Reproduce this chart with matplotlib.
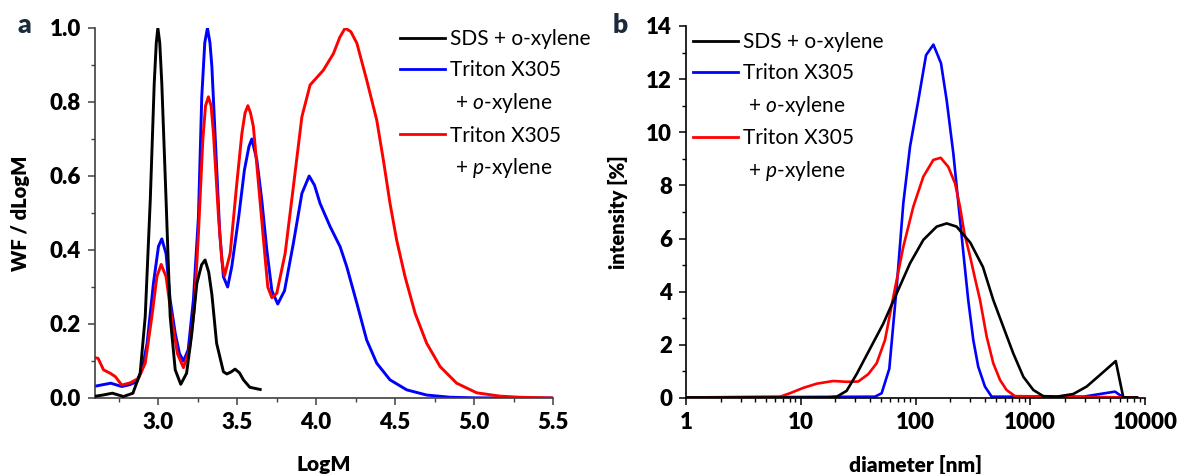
import numpy as np
import matplotlib
matplotlib.use("Agg")
import matplotlib.pyplot as plt
from matplotlib.lines import Line2D
from matplotlib.ticker import MultipleLocator, LogLocator, NullFormatter

plt.rcParams['font.family'] = ['Lato', 'DejaVu Sans']
plt.rcParams['mathtext.fontset'] = 'custom'
plt.rcParams['mathtext.rm'] = 'Lato'
plt.rcParams['mathtext.it'] = 'Lato:italic'

# ---- panel a: GPC, WF/dLogM vs LogM ----
logm_sds = [2.59, 2.65, 2.71, 2.78, 2.84, 2.886, 2.918, 2.95, 2.975, 2.988, 2.998, 3.01, 3.023,
            3.05, 3.076, 3.108, 3.143, 3.18, 3.213, 3.245, 3.275, 3.297, 3.32, 3.34, 3.37, 3.413,
            3.435, 3.46, 3.487, 3.515, 3.54, 3.58, 3.646]
wf_sds = [0.004, 0.008, 0.013, 0.004, 0.013, 0.067, 0.22, 0.535, 0.85, 0.96, 1.0, 0.96, 0.85,
          0.535, 0.22, 0.076, 0.037, 0.067, 0.175, 0.31, 0.36, 0.373, 0.34, 0.28, 0.148, 0.071,
          0.065, 0.07, 0.078, 0.068, 0.049, 0.029, 0.023]

logm_tx_o = [2.59, 2.65, 2.70, 2.77, 2.82, 2.865, 2.90, 2.93, 2.97, 3.002, 3.023, 3.05, 3.076,
             3.108, 3.135, 3.16, 3.19, 3.223, 3.255, 3.276, 3.295, 3.312, 3.328, 3.34, 3.36,
             3.39, 3.413, 3.44, 3.466, 3.51, 3.546, 3.575, 3.593, 3.625, 3.656, 3.688, 3.72,
             3.757, 3.80, 3.856, 3.91, 3.956, 3.99, 4.025, 4.089, 4.152, 4.194, 4.258, 4.32,
             4.384, 4.468, 4.574, 4.70, 4.85, 5.0, 5.2, 5.5]
wf_tx_o = [0.031, 0.036, 0.04, 0.031, 0.036, 0.044, 0.08, 0.148, 0.31, 0.41, 0.43, 0.39, 0.265,
           0.175, 0.12, 0.10, 0.13, 0.265, 0.49, 0.814, 0.96, 1.0, 0.96, 0.896, 0.715,
           0.445, 0.328, 0.30, 0.355, 0.49, 0.616, 0.68, 0.70, 0.643, 0.535, 0.40, 0.29,
           0.254, 0.29, 0.418, 0.553, 0.60, 0.575, 0.526, 0.463, 0.409, 0.355, 0.256, 0.157,
           0.094, 0.049, 0.022, 0.008, 0.002, 0.0005, 0.0, 0.0]

logm_tx_p = [2.59, 2.62, 2.654, 2.696, 2.728, 2.77, 2.823, 2.875, 2.918, 2.96, 2.992, 3.019,
             3.05, 3.087, 3.122, 3.16, 3.198, 3.228, 3.255, 3.283, 3.30, 3.318, 3.335, 3.35,
             3.382, 3.403, 3.42, 3.456, 3.498, 3.53, 3.55, 3.568, 3.585, 3.603, 3.635, 3.667,
             3.694, 3.72, 3.751, 3.804, 3.856, 3.91, 3.962, 4.046, 4.11, 4.15, 4.184, 4.22,
             4.258, 4.32, 4.384, 4.426, 4.468, 4.51, 4.563, 4.627, 4.70, 4.785, 4.89, 5.017,
             5.165, 5.29, 5.5]
wf_tx_p = [0.11, 0.107, 0.076, 0.067, 0.058, 0.035, 0.041, 0.053, 0.094, 0.22, 0.328, 0.361,
           0.328, 0.21, 0.12, 0.082, 0.13, 0.238, 0.445, 0.70, 0.79, 0.814, 0.79, 0.715,
           0.49, 0.373, 0.33, 0.391, 0.58, 0.715, 0.77, 0.79, 0.77, 0.733, 0.58, 0.427,
           0.30, 0.271, 0.283, 0.391, 0.571, 0.76, 0.846, 0.886, 0.931, 0.975, 1.0, 0.99,
           0.959, 0.86, 0.751, 0.643, 0.526, 0.427, 0.328, 0.229, 0.148, 0.085, 0.04, 0.014,
           0.005, 0.002, 0.0]

# ---- panel b: DLS, intensity vs diameter ----
d_sds = [1, 17, 20.6, 25.1, 30.7, 40.1, 52.4, 68.6, 89.6, 117, 153, 187, 228, 300, 387, 476,
         582, 711, 870, 1064, 1300, 1700, 2370, 3100, 4060, 5560, 6470, 8500]
int_sds = [0.02, 0.02, 0.05, 0.27, 0.9, 1.85, 2.8, 3.94, 5.07, 5.95, 6.45, 6.57, 6.45, 5.85,
           4.93, 3.69, 2.68, 1.68, 0.8, 0.3, 0.07, 0.05, 0.15, 0.43, 0.87, 1.39, 0.02, 0.02]

d_tx_o = [1, 44.4, 50.7, 59.1, 68.6, 78.3, 89.6, 105.8, 123.5, 143.2, 166.8, 187, 213.7, 244.5,
          265, 288, 319, 352, 403, 461, 2900, 5480, 6470, 8500]
int_tx_o = [0.02, 0.05, 0.18, 1.1, 4.19, 7.33, 9.46, 11.2, 12.9, 13.3, 12.6, 11.2, 9.2, 6.7,
            5.2, 3.69, 2.18, 1.18, 0.43, 0.05, 0.05, 0.24, 0.02, 0.02]

d_tx_p = [1, 6.6, 8.06, 10.5, 13.8, 19.2, 25.1, 31.7, 38.8, 45.9, 54.2, 64.1, 78.3, 95.7, 117,
          143, 165.7, 193, 221, 244, 267, 300, 330, 365, 417, 476, 545, 622, 736, 8500]
int_tx_p = [0.02, 0.05, 0.18, 0.38, 0.54, 0.64, 0.61, 0.62, 0.9, 1.31, 2.18, 3.81, 5.69, 7.2,
            8.33, 8.96, 9.04, 8.7, 8.08, 7.2, 6.19, 5.3, 4.5, 3.69, 2.31, 1.31, 0.68, 0.3,
            0.07, 0.02]

labels = ["SDS + o-xylene", "Triton X305", " + $\\mathit{o}$-xylene", "Triton X305",
          " + $\\mathit{p}$-xylene"]
colors = ["black", "#0000ff", "#ff0000"]

W, H = 1177, 474
fig = plt.figure(figsize=(W / 100, H / 100), dpi=100)
ax1 = fig.add_axes([95 / W, 1 - 398 / H, (553 - 95) / W, (398 - 28) / H])
ax2 = fig.add_axes([686 / W, 1 - 398 / H, (1145 - 686) / W, (398 - 26) / H])

ax1.plot(logm_sds, wf_sds, color=colors[0], lw=2.1, zorder=3)
ax1.plot(logm_tx_o, wf_tx_o, color=colors[1], lw=2.1, zorder=2)
ax1.plot(logm_tx_p, wf_tx_p, color=colors[2], lw=2.1, zorder=2.5)
ax1.set_xlim(2.6, 5.5)
ax1.set_ylim(0, 1.0)
ax1.xaxis.set_minor_locator(MultipleLocator(0.25))
ax1.yaxis.set_minor_locator(MultipleLocator(0.1))
ax1.set_xticks([3.0, 3.5, 4.0, 4.5, 5.0, 5.5])
ax1.set_xticklabels(["3.0", "3.5", "4.0", "4.5", "5.0", "5.5"])
ax1.set_yticks([0.0, 0.2, 0.4, 0.6, 0.8, 1.0])
ax1.set_yticklabels(["0.0", "0.2", "0.4", "0.6", "0.8", "1.0"])
ax1.set_xlabel("LogM", fontsize=15, fontweight='heavy', labelpad=16)
ax1.set_ylabel("WF / dLogM", fontsize=14.5, fontweight='heavy', labelpad=14)

ax2.plot(d_sds, int_sds, color=colors[0], lw=1.9, zorder=3)
ax2.plot(d_tx_o, int_tx_o, color=colors[1], lw=1.9, zorder=2)
ax2.plot(d_tx_p, int_tx_p, color=colors[2], lw=1.9, zorder=2.5)
ax2.set_xscale('log')
ax2.set_xlim(1, 10000)
ax2.set_ylim(0, 14)
ax2.set_xticks([1, 10, 100, 1000, 10000])
ax2.set_xticklabels(["1", "10", "100", "1000", "10000"])
ax2.xaxis.set_minor_locator(LogLocator(base=10, subs=np.arange(2, 10)))
ax2.xaxis.set_minor_formatter(NullFormatter())
ax2.yaxis.set_major_locator(MultipleLocator(2))
ax2.yaxis.set_minor_locator(MultipleLocator(1))
ax2.set_xlabel("diameter [nm]", fontsize=15, fontweight='heavy', labelpad=16)
ax2.set_ylabel("intensity [%]", fontsize=14.5, fontweight='heavy', labelpad=13)

for ax, sc in ((ax1, '#404040'), (ax2, 'black')):
    for side in ('top', 'right'):
        ax.spines[side].set_visible(False)
    for side in ('left', 'bottom'):
        ax.spines[side].set_color(sc)
        ax.spines[side].set_linewidth(1.2)
    ax.tick_params(which='major', direction='out', length=5, width=1.1, color=sc,
                   labelsize=16, pad=5)
    ax.tick_params(which='minor', direction='out', length=3, width=1.0, color=sc)
    for t in ax.get_xticklabels() + ax.get_yticklabels():
        t.set_fontweight('heavy')

# legends with the second label line as its own row
handles = [Line2D([], [], color=colors[0], lw=2),
           Line2D([], [], color=colors[1], lw=2),
           Line2D([], [], color='none'),
           Line2D([], [], color=colors[2], lw=2),
           Line2D([], [], color='none')]
for ax, x0, y0 in ((ax1, 400, 29), (ax2, 693, 32)):
    ax.legend(handles, labels, loc='upper left', bbox_to_anchor=(x0 / W, 1 - y0 / H),
              bbox_transform=fig.transFigure, frameon=False, fontsize=15,
              handlelength=2.15, handletextpad=0.25, labelspacing=0.52,
              borderpad=0, borderaxespad=0)

fig.text(24 / W, 1 - 25 / H, "a", fontsize=19, fontweight='heavy', color='#1c2b3a',
         ha='center', va='center')
fig.text(620 / W, 1 - 25 / H, "b", fontsize=19, fontweight='heavy', color='#1c2b3a',
         ha='center', va='center')

fig.savefig("out.png", dpi=100)
